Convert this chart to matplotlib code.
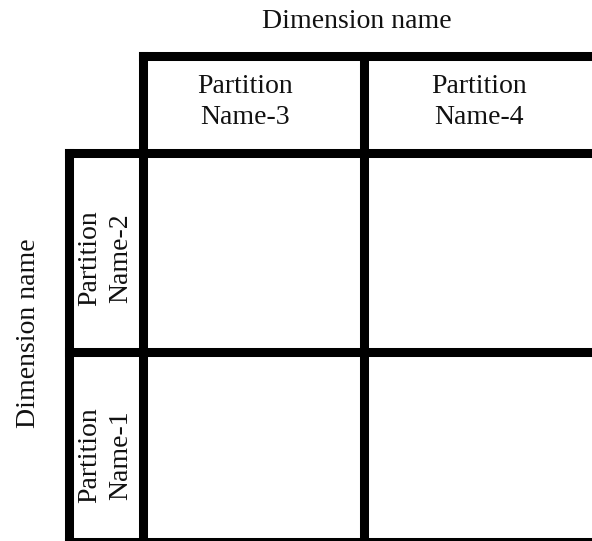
import matplotlib
matplotlib.use("Agg")
import matplotlib.pyplot as plt

# labels of the partition diagram
col_dimension = "Dimension name"
row_dimension = "Dimension name"
col_partitions = ["Partition\nName-3", "Partition\nName-4"]
row_partitions = ["Partition\nName-2", "Partition\nName-1"]

W, H = 592, 541
fig = plt.figure(figsize=(W / 100, H / 100), dpi=100)
ax = fig.add_axes([0, 0, 1, 1])
ax.set_xlim(0, W)
ax.set_ylim(H, 0)
ax.axis("off")

plt.rcParams["font.family"] = ["Liberation Serif", "DejaVu Serif"]
fs = 20
lw = 6.5
ls = 1.3

# grid geometry (pixels)
x_left, x_col, x_mid, x_right = 69, 142.5, 364, 610
y_top, y_row, y_mid, y_bot = 56, 152.5, 351.5, 541.5

def line(xs, ys):
    ax.plot(xs, ys, color="black", linewidth=lw, solid_capstyle="projecting")

line([x_col, x_right], [y_top, y_top])
for y in (y_row, y_mid, y_bot):
    line([x_left, x_right], [y, y])
line([x_col, x_col], [y_top, y_bot])
line([x_mid, x_mid], [y_top, y_bot])
line([x_left, x_left], [y_row, y_bot])

# header texts
ax.text(357, 21, col_dimension, fontsize=fs, ha="center", va="center", color="#111111")
ax.text(29, 333, row_dimension, fontsize=fs, ha="center", va="center",
        rotation=90, color="#111111")

col_x = [245, 479]
for x, lab in zip(col_x, col_partitions):
    ax.text(x, 102, lab, fontsize=fs, ha="center", va="center", color="#111111",
            multialignment="center", linespacing=ls)

row_y = [258, 455]
for y, lab in zip(row_y, row_partitions):
    ax.text(105, y, lab, fontsize=fs, ha="center", va="center", rotation=90,
            color="#111111", multialignment="center", linespacing=ls)

fig.savefig("out.png", dpi=100, facecolor="white")
